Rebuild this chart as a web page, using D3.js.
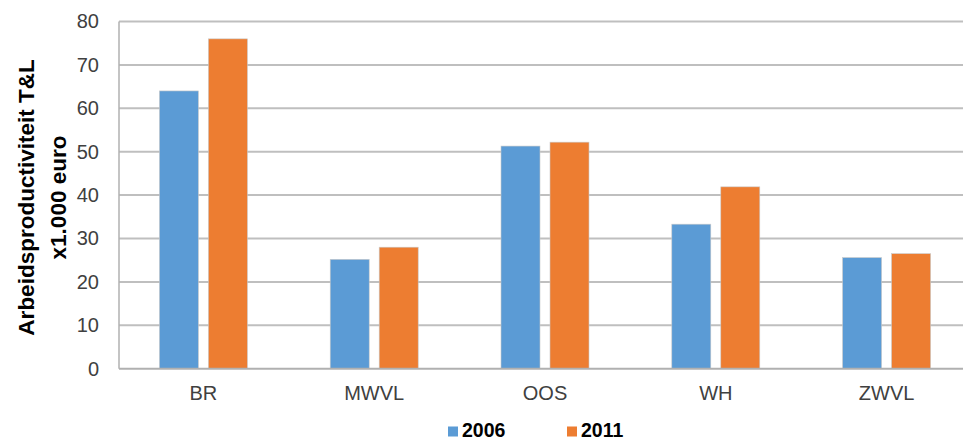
<!DOCTYPE html>
<html>
<head>
<meta charset="utf-8">
<script src="https://cdn.jsdelivr.net/npm/d3@7"></script>
<style>
  html, body { margin: 0; padding: 0; background: #fff; }
  svg { display: block; }
</style>
</head>
<body>
<svg id="chart" width="963" height="440"></svg>
<script>
const categories = ["BR", "MWVL", "OOS", "WH", "ZWVL"];
const seriesNames = ["2006", "2011"];
const values2006 = [64, 25.2, 51.3, 33.3, 25.6];
const values2011 = [76, 28, 52.2, 41.9, 26.5];
const yTicks = [0, 10, 20, 30, 40, 50, 60, 70, 80];
const colors = ["#5B9BD5", "#ED7D31"];
const yLabelLines = ["Arbeidsproductiviteit  T&L", "x1.000 euro"];

const svg = d3.select("#chart");
const plotLeft = 119, plotTop = 21.5, plotBottom = 368.7;

const x = d3.scaleBand().domain(categories).range([118, 972]).padding(0);
const xi = d3.scaleBand().domain(seriesNames).range([0, x.bandwidth()])
  .paddingInner(0.204).paddingOuter(0.845);
const y = d3.scaleLinear().domain([0, 80]).range([plotBottom, plotTop]);

// gridlines
svg.append("g").selectAll("line").data(yTicks.filter(d => d > 0)).join("line")
  .attr("x1", plotLeft).attr("x2", 963)
  .attr("y1", d => y(d)).attr("y2", d => y(d))
  .attr("stroke", "#BFBFBF").attr("stroke-width", 2);

// bars
const data = [];
categories.forEach((c, i) => {
  data.push({cat: c, s: "2006", v: values2006[i], col: colors[0]});
  data.push({cat: c, s: "2011", v: values2011[i], col: colors[1]});
});
svg.append("g").selectAll("rect").data(data).join("rect")
  .attr("x", d => x(d.cat) + xi(d.s))
  .attr("width", xi.bandwidth())
  .attr("y", d => y(d.v))
  .attr("height", d => y(0) - y(d.v))
  .attr("fill", d => d.col)
  .attr("stroke", "#c9c9c9").attr("stroke-width", 0.6);

// axes lines
svg.append("line").attr("x1", plotLeft).attr("x2", plotLeft).attr("y1", plotTop).attr("y2", plotBottom)
  .attr("stroke", "#B0B0B0").attr("stroke-width", 1.5);
svg.append("line").attr("x1", plotLeft).attr("x2", 963).attr("y1", plotBottom).attr("y2", plotBottom)
  .attr("stroke", "#B0B0B0").attr("stroke-width", 2);

// y axis labels
const yAxis = d3.axisLeft(y).tickValues(yTicks).tickSize(0).tickPadding(20);
const gy = svg.append("g").attr("transform", `translate(${plotLeft},0)`).call(yAxis);
gy.select(".domain").remove();
gy.selectAll("text").attr("font-family", "Liberation Sans, Arial, sans-serif")
  .attr("font-size", 20).attr("fill", "#404040");

// x axis labels
const xAxis = d3.axisBottom(x).tickSize(0).tickPadding(17);
const gx = svg.append("g").attr("transform", `translate(0,${plotBottom})`).call(xAxis);
gx.select(".domain").remove();
gx.selectAll("text").attr("font-family", "Liberation Sans, Arial, sans-serif")
  .attr("font-size", 20).attr("fill", "#404040");

// y title
const cy = 197.5;
const title = svg.append("g").attr("font-family", "Liberation Sans, Arial, sans-serif")
  .attr("font-weight", "bold").attr("font-size", 22.5).attr("fill", "#000")
  .attr("text-anchor", "middle");
title.append("text").attr("transform", `translate(34,${cy}) rotate(-90)`).text(yLabelLines[0]);
title.append("text").attr("transform", `translate(66,${cy}) rotate(-90)`).text(yLabelLines[1]);

// legend
const legendX = [448, 567];
const lg = svg.append("g");
seriesNames.forEach((s, i) => {
  lg.append("rect").attr("x", legendX[i]).attr("y", 426.5).attr("width", 10).attr("height", 10)
    .attr("fill", colors[i]);
  lg.append("text").attr("x", legendX[i] + 14).attr("y", 437)
    .attr("font-family", "Liberation Sans, Arial, sans-serif").attr("font-weight", "bold")
    .attr("font-size", 19.5).attr("fill", "#000").text(s);
});
</script>
</body>
</html>
